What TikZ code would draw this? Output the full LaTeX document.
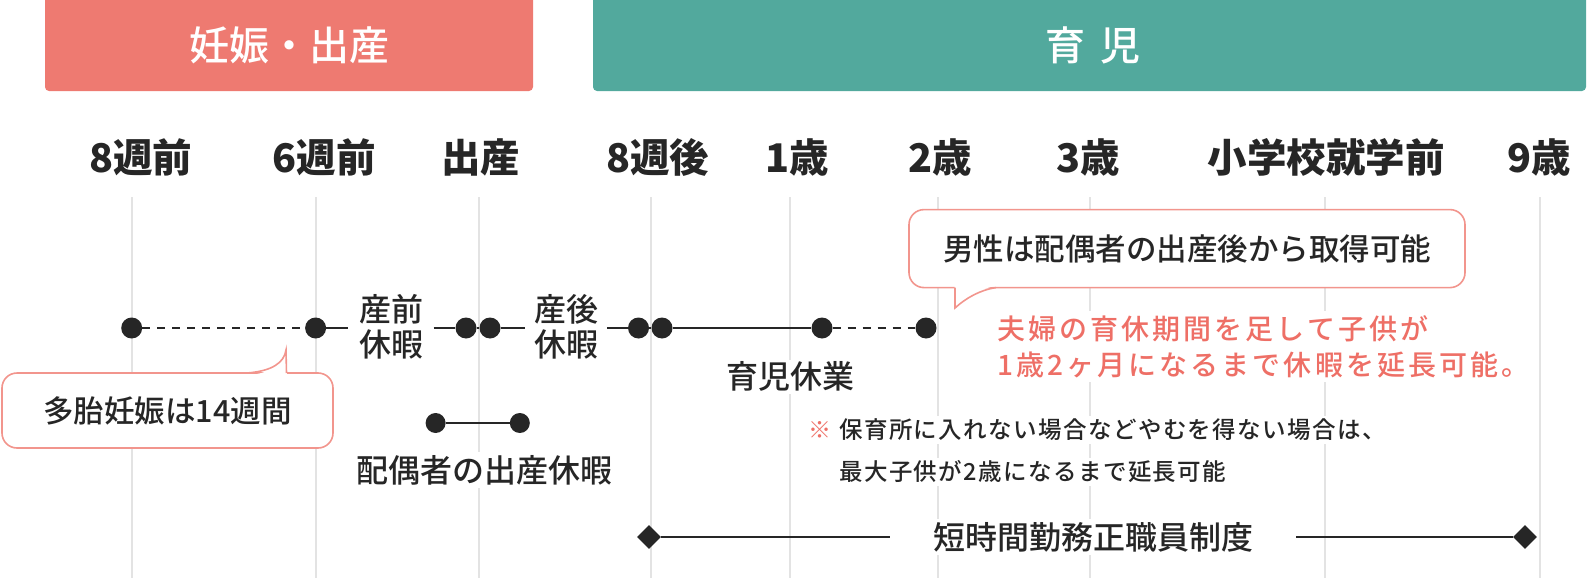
\documentclass[tikz,border=0pt]{standalone}
\usepackage{fontspec}
\setmainfont{Noto Sans CJK JP}
\IfFontExistsTF{Noto Sans CJK JP Medium}{\newfontfamily\jpm{Noto Sans CJK JP Medium}}{\newfontfamily\jpm{Noto Sans CJK JP}}
\usetikzlibrary{shapes.geometric}
\definecolor{ink}{HTML}{262626}
\definecolor{hdpink}{HTML}{EE7A71}
\definecolor{hdteal}{HTML}{52A99D}
\definecolor{bubpink}{HTML}{F2958D}
\definecolor{redtxt}{HTML}{EE6F66}
\definecolor{gridgray}{HTML}{E3E3E3}
\tikzset{
  hd/.style={rounded corners=4pt},
  hdt/.style={text=white,font=\jpm\fontsize{40}{42}\selectfont,inner sep=0pt},
  tm/.style={text=ink,font=\fontsize{39.5}{42}\selectfont\bfseries,inner sep=0pt},
  grd/.style={draw=gridgray,line width=2pt},
  dt/.style={circle,fill=ink,minimum size=21pt,inner sep=0pt},
  dm/.style={diamond,fill=ink,minimum width=24pt,minimum height=24pt,inner sep=0pt},
  per/.style={draw=ink,line width=2pt},
  perd/.style={per,dash pattern=on 8pt off 7pt},
  lb/.style={text=ink,font=\jpm\fontsize{32}{35}\selectfont,align=center,inner sep=3pt},
  bub/.style={draw=bubpink,line width=1.6pt,fill=white,rounded corners=15pt,inner sep=0pt,outer sep=0pt,
    text=ink,font=\jpm\fontsize{30.5}{32}\selectfont},
  bubl/.style={draw=bubpink,line width=1.6pt},
  rd/.style={text=redtxt,fill=white,font=\jpm\fontsize{28}{36}\selectfont\addfontfeature{LetterSpace=11},align=left,inner sep=4pt},
  nt/.style={text=ink,fill=white,font=\jpm\fontsize{23.5}{25}\selectfont\addfontfeature{LetterSpace=6},inner sep=3pt},
}
\begin{document}
\begin{tikzpicture}[x=1pt,y=-1pt]
\useasboundingbox (0,0) rectangle (1587,578);
% ---- headers
\fill[hdpink,hd] (45,-6) rectangle (533,91);
\fill[hdteal,hd] (593,-6) rectangle (1586,91);
\node[hdt] (hpreg) at (289,45) {妊娠・出産};
\node[hdt] (hchild) at (1093,45) {育\hspace{.4em}児};
% ---- grid lines
\draw[grd] (131.7,197)--(131.7,578) (316,197)--(316,578) (478.5,197)--(478.5,578)
  (650.5,197)--(650.5,578) (790.3,197)--(790.3,578) (938,197)--(938,578)
  (1090,197)--(1090,578) (1324.5,197)--(1324.5,578) (1540,197)--(1540,578);
% ---- time labels
\node[tm] (w8b) at (140.7,157) {8週前}; \node[tm] (w6b) at (324,157) {6週前};
\node[tm] (birth) at (480.7,157) {出産}; \node[tm] (w8a) at (657.7,157) {8週後};
\node[tm] (y1) at (797,157) {1歳}; \node[tm] (y2) at (940,157) {2歳};
\node[tm] (y3) at (1088,157) {3歳}; \node[tm] (prim) at (1326,157) {小学校就学前};
\node[tm] (y9) at (1539,157) {9歳};
% ---- bubbles
\node[bub,minimum width=331pt,minimum height=75pt] (cb1) at (167.5,410.5) {多胎妊娠は14週間};
\fill[white] (247,375.5) .. controls (272,373) and (284,364) .. (286,350) -- (287,375.5) -- cycle;
\draw[bubl] (247,373) .. controls (272,371) and (284,363) .. (286,350) -- (286.5,373);
\node[bub,minimum width=556pt,minimum height=78pt] (cb2) at (1187,248.6) {男性は配偶者の出産後から取得可能};
\fill[white] (954.5,286) -- (955,308) .. controls (966,297) and (980,288.5) .. (996,286) -- cycle;
\draw[bubl] (955,287.6) -- (955,308) .. controls (966,298) and (980,290) .. (996,287.6);
% ---- leave periods
\node[dt] (d1) at (131.7,328) {}; \node[dt] (d2) at (315.6,328) {};
\node[dt] (d3) at (466,328) {}; \node[dt] (d4) at (490,328) {};
\node[dt] (d5) at (638.5,328) {}; \node[dt] (d6) at (662,328) {};
\node[dt] (d7) at (822,328) {}; \node[dt] (d8) at (926,328) {};
\node[lb,inner xsep=10.5pt] (pre) at (391,326.5) {産前\\休暇};
\node[lb,inner xsep=9pt] (post) at (566,326.5) {産後\\休暇};
\draw[perd] (d1)--(d2) (d7)--(d8);
\draw[per] (d2)--(d2-|pre.west) (pre.east|-d3)--(d3)--(d4)--(d4-|post.west)
  (post.east|-d5)--(d5)--(d6)--(d7);
\node[lb,fill=white,inner sep=2pt] (ikuji) at (790,376.7) {育児休業};
\node[dt,minimum size=20pt] (s1) at (435.6,423) {}; \node[dt,minimum size=20pt] (s2) at (519.8,423) {};
\draw[per] (s1)--(s2);
\node[lb,fill=white] (spouse) at (484.5,470) {配偶者の出産休暇};
% ---- notes
\node[rd,anchor=west] (ext) at (993,346.5) {夫婦の育休期間を足して子供が\\1歳2ヶ月になるまで休暇を延長可能。};
\node[text=redtxt,font=\jpm\fontsize{23}{25}\selectfont,inner sep=0pt] (kome) at (820,430) {※};
\node[nt,anchor=west] (nt1) at (836,430) {保育所に入れない場合などやむを得ない場合は、};
\node[nt,anchor=west] (nt2) at (836,471.7) {最大子供が2歳になるまで延長可能};
% ---- short-time work
\node[dm] (m1) at (649,537) {}; \node[dm] (m2) at (1525,537) {};
\node[lb,fill=white,font=\jpm\fontsize{32}{34}\selectfont,inner xsep=43pt] (short) at (1093,537) {短時間勤務正職員制度};
\draw[per,line width=1.8pt] (m1)--(short)--(m2);
\end{tikzpicture}
\end{document}
